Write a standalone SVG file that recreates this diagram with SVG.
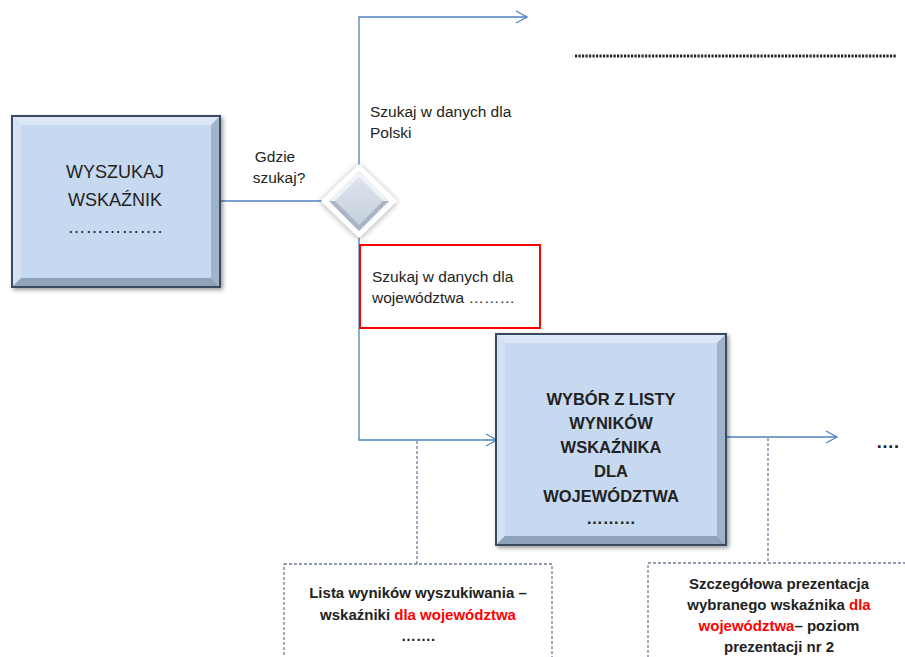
<svg xmlns="http://www.w3.org/2000/svg" width="905" height="657" viewBox="0 0 905 657">
<style>
.t{font-family:"Liberation Sans",Arial,sans-serif;fill:#222;}
.c{stroke:#4f81bd;stroke-width:1.3;fill:none;}
.d{stroke:#6d7f99;stroke-width:1.3;fill:none;stroke-dasharray:3,2;}
.r{fill:#ff0000;}
.bx{fill:#c6d9f1;stroke:#3b4a5c;stroke-width:2;}
</style>
<defs>
<marker id="ar" markerWidth="14" markerHeight="14" refX="12" refY="7" orient="auto" markerUnits="userSpaceOnUse">
<path d="M1,1 L12,7 L1,13" fill="none" stroke="#4f81bd" stroke-width="1.3"/>
</marker>
<filter id="sh" x="-10%" y="-10%" width="125%" height="125%">
<feGaussianBlur in="SourceAlpha" stdDeviation="2"/>
<feOffset dx="2" dy="2"/>
<feComponentTransfer><feFuncA type="linear" slope="0.4"/></feComponentTransfer>
<feMerge><feMergeNode/><feMergeNode in="SourceGraphic"/></feMerge>
</filter>
<filter id="gl" x="-50%" y="-50%" width="200%" height="200%">
<feGaussianBlur in="SourceAlpha" stdDeviation="3"/>
<feOffset dx="0" dy="1"/>
<feComponentTransfer><feFuncA type="linear" slope="0.35"/></feComponentTransfer>
<feMerge><feMergeNode/><feMergeNode in="SourceGraphic"/></feMerge>
</filter>
<linearGradient id="dg" x1="0" y1="0" x2="0" y2="1">
<stop offset="0" stop-color="#dfe6ef"/>
<stop offset="1" stop-color="#c3cedb"/>
</linearGradient>
</defs>

<g id="connectors">
<polyline class="c" points="220,201 330,201"/>
<polyline class="c" points="359,170 359,17 527,17" marker-end="url(#ar)"/>
<polyline class="c" points="359,232 359,440 497,440" marker-end="url(#ar)"/>
<polyline class="c" points="727,437 837,437" marker-end="url(#ar)"/>
<line class="d" x1="417" y1="441" x2="417" y2="565"/>
<line class="d" x1="768" y1="438" x2="768" y2="563"/>
</g>

<g id="wyszukaj">
<rect class="bx" x="12" y="116" width="208" height="171" filter="url(#sh)"/>
<polygon points="13,117 219,117 211,125 21,125" fill="#dbe7f6"/>
<polygon points="13,117 21,125 21,278 13,286" fill="#d3e1f3"/>
<polygon points="219,117 219,286 211,278 211,125" fill="#9fb3cb"/>
<polygon points="13,286 219,286 211,278 21,278" fill="#8fa3bb"/>
<rect x="12" y="116" width="208" height="171" fill="none" stroke="#3b4a5c" stroke-width="2"/>
<text class="t" x="115" y="178" font-size="18" text-anchor="middle">WYSZUKAJ</text>
<text class="t" x="115" y="206" font-size="18" text-anchor="middle">WSKAŹNIK</text>
<text class="t" x="115" y="233" font-size="18" text-anchor="middle">…………….</text>
</g>

<g id="gdzie">
<text class="t" x="275" y="162" font-size="15.5" text-anchor="middle">Gdzie</text>
<text class="t" x="279" y="183" font-size="15.5" text-anchor="middle">szukaj?</text>
</g>

<g id="decision">
<polygon points="359,164 397,201 359,238 321,201" fill="#ffffff" filter="url(#gl)"/>
<polygon points="359,171 389,201 359,231 329,201" fill="url(#dg)"/>
<polygon points="359,171 389,201 383,201 359,177 335,201 329,201" fill="#eef2f7"/>
<polygon points="329,201 335,201 359,225 383,201 389,201 359,231" fill="#a9b5c4"/>
</g>

<g id="polski">
<text class="t" x="370" y="117" font-size="15.5">Szukaj w danych dla</text>
<text class="t" x="370" y="138" font-size="15.5">Polski</text>
</g>

<g id="wojewodztwa">
<rect x="360" y="245" width="180" height="83" fill="#ffffff" stroke="#ff0000" stroke-width="2"/>
<text class="t" x="372" y="282" font-size="15.5">Szukaj w danych dla</text>
<text class="t" x="372" y="303" font-size="15.5">województwa  ………</text>
</g>

<g id="wybor">
<rect class="bx" x="496" y="334" width="230" height="211" filter="url(#sh)"/>
<polygon points="497,335 725,335 717,343 505,343" fill="#dbe7f6"/>
<polygon points="497,335 505,343 505,536 497,544" fill="#d3e1f3"/>
<polygon points="725,335 725,544 717,536 717,343" fill="#9fb3cb"/>
<polygon points="497,544 725,544 717,536 505,536" fill="#8fa3bb"/>
<rect x="496" y="334" width="230" height="211" fill="none" stroke="#3b4a5c" stroke-width="2"/>
<g class="t" font-size="16.5" font-weight="bold" text-anchor="middle">
<text x="611" y="405">WYBÓR  Z LISTY</text>
<text x="611" y="429">WYNIKÓW</text>
<text x="611" y="453">WSKAŹNIKA</text>
<text x="611" y="477">DLA</text>
<text x="611" y="502">WOJEWÓDZTWA</text>
<text x="611" y="524">………</text>
</g>
</g>

<g id="topdots">
<line x1="575" y1="56" x2="897" y2="56" stroke="#222" stroke-width="3" stroke-dasharray="2.2,1.3"/>
</g>
<g id="rightdots">
<text class="t" x="876" y="448" font-size="18" font-weight="bold">….</text>
</g>

<g id="lista">
<rect class="d" x="284" y="564" width="268" height="100"/>
<g class="t" font-size="15" font-weight="bold" text-anchor="middle">
<text x="418" y="598">Lista wyników  wyszukiwania  –</text>
<text x="418" y="620">wskaźniki  <tspan class="r">dla województwa</tspan></text>
<text x="418" y="641">…….</text>
</g>
</g>

<g id="szczegolowa">
<rect class="d" x="648" y="563" width="270" height="100"/>
<g class="t" font-size="15" font-weight="bold" text-anchor="middle">
<text x="779" y="589">Szczegółowa  prezentacja</text>
<text x="779" y="610">wybranego wskaźnika  <tspan class="r">dla</tspan></text>
<text x="779" y="631"><tspan class="r">województwa</tspan>– poziom</text>
<text x="779" y="652">prezentacji nr 2</text>
</g>
</g>
</svg>
